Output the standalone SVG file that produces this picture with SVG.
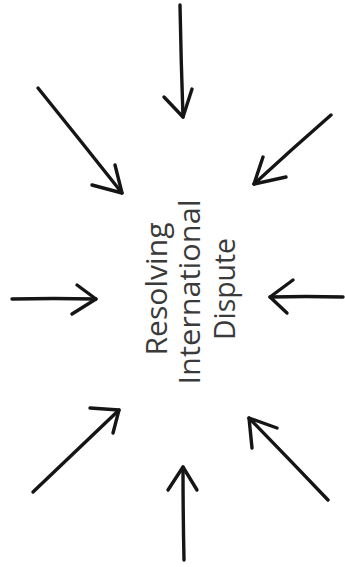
<svg xmlns="http://www.w3.org/2000/svg" width="345" height="567" viewBox="0 0 345 567">
<style>
.arr{fill:none;stroke:#151515;stroke-width:3.4;stroke-linecap:round;stroke-linejoin:round}
.lbl{font-family:"Open Sans","Liberation Sans",sans-serif;font-size:30px;fill:#3a3a3a;text-anchor:middle}
</style>
<rect width="345" height="567" fill="#ffffff"/>
<g id="center" transform="rotate(-90)">
<text class="lbl" x="-289" y="167" textLength="133" lengthAdjust="spacingAndGlyphs">Resolving</text>
<text class="lbl" x="-292" y="200" textLength="185" lengthAdjust="spacingAndGlyphs">International</text>
<text class="lbl" x="-289" y="235" textLength="102" lengthAdjust="spacingAndGlyphs">Dispute</text>
</g>
<g id="connectors">
<g id="arrow-top"><path class="arr" d="M180 5 Q181 60 183 117"/><path class="arr" d="M164 97 L183 117 L192 89"/></g>
<g id="arrow-top-left"><path class="arr" d="M38 88 Q80 140 122 193"/><path class="arr" d="M92 185 L122 193 L115 165"/></g>
<g id="arrow-top-right"><path class="arr" d="M331 115 Q292 149 254 184"/><path class="arr" d="M263 157 L254 184 L286 177"/></g>
<g id="arrow-left"><path class="arr" d="M12 299 Q54 298 96 299"/><path class="arr" d="M77 285 L96 299 L72 314"/></g>
<g id="arrow-right"><path class="arr" d="M343 297 Q306 296 270 297"/><path class="arr" d="M293 280 L270 297 L287 313"/></g>
<g id="arrow-bottom-left"><path class="arr" d="M33 492 Q76 451 119 410"/><path class="arr" d="M90 408 L119 410 L113 433"/></g>
<g id="arrow-bottom"><path class="arr" d="M184 560 Q183 513 183 467"/><path class="arr" d="M168 490 L183 467 L197 490"/></g>
<g id="arrow-bottom-right"><path class="arr" d="M328 500 Q289 459 249 418"/><path class="arr" d="M252 448 L249 418 L277 428"/></g>
</g>
</svg>
